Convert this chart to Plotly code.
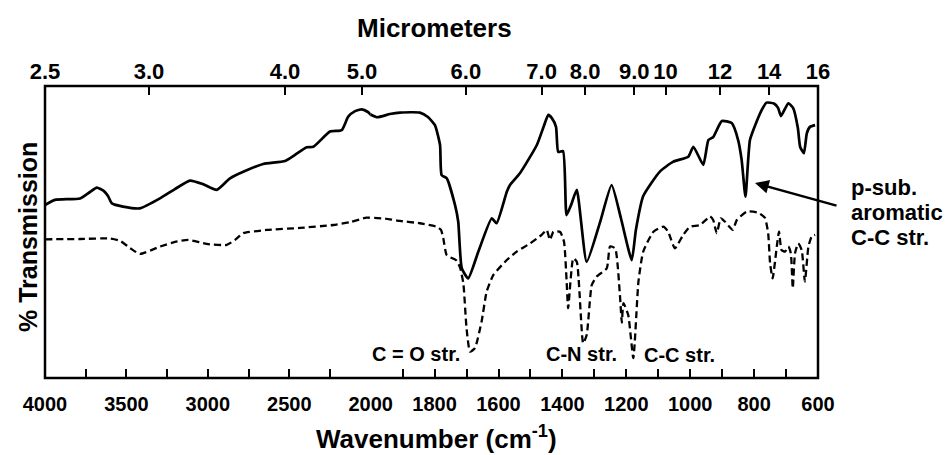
import plotly.graph_objects as go

# ---------------- data (wavenumber in cm^-1, % transmission) ----------------
wn_solid = [4000, 3939, 3785, 3724, 3682, 3638, 3613, 3589, 3521, 3417, 3294, 3202, 3110, 3030,
            2946, 2864, 2772, 2660, 2526, 2465, 2393, 2352, 2250, 2178, 2138, 2096, 2055, 2017,
            1981, 1940, 1908, 1846, 1821, 1799, 1783, 1778, 1762, 1736, 1726, 1715, 1695, 1663,
            1621, 1606, 1574, 1564, 1533, 1480, 1458, 1444, 1433, 1420, 1413, 1398, 1387, 1373,
            1355, 1324, 1282, 1246, 1217, 1183, 1170, 1147, 1095, 1053, 1006, 990, 959, 943,
            928, 901, 870, 850, 839, 827, 813, 792, 776, 761, 738, 725, 716, 693, 678, 663, 656,
            644, 635, 625, 609]
t_solid = [59.2, 61.0, 61.5, 63.7, 65.2, 64.0, 62.3, 59.8, 58.7, 58.1, 61.5, 64.7, 67.6, 66.4,
           64.4, 68.4, 70.9, 73.3, 74.3, 76.4, 79.0, 79.2, 84.4, 84.9, 89.5, 91.4, 92.0, 91.1,
           89.3, 90.4, 90.9, 90.9, 89.4, 86.6, 79.8, 69.5, 68.4, 59.2, 53.5, 37.6, 34.1, 43.3,
           54.7, 53.0, 63.8, 66.1, 70.1, 79.8, 86.3, 90.1, 89.0, 86.0, 77.4, 77.7, 55.8, 59.2,
           64.4, 39.8, 53.4, 66.1, 54.8, 40.4, 50.7, 62.3, 70.7, 74.1, 75.8, 79.2, 73.0, 81.5,
           82.5, 88.0, 87.3, 81.5, 74.7, 62.1, 81.5, 87.8, 91.8, 94.3, 94.0, 92.5, 89.7, 94.1,
           92.5, 85.6, 79.2, 77.0, 83.8, 86.0, 86.6]

wn_dash = [4000, 3785, 3601, 3539, 3478, 3417, 3294, 3202, 3120, 3007, 2884, 2833, 2782, 2639,
           2434, 2230, 2127, 2025, 1955, 1908, 1846, 1793, 1780, 1773, 1762, 1731, 1720, 1710,
           1700, 1689, 1674, 1653, 1637, 1616, 1574, 1543, 1501, 1465, 1449, 1439, 1428, 1407,
           1395, 1387, 1382, 1366, 1355, 1335, 1324, 1308, 1293, 1261, 1251, 1235, 1220, 1214,
           1209, 1194, 1178, 1162, 1147, 1115, 1084, 1069, 1048, 1022, 1001, 969, 938, 928, 917,
           904, 891, 867, 854, 823, 787, 766, 756, 750, 742, 729, 722, 714, 703, 693, 685, 679,
           672, 662, 651, 641, 630, 620, 609]
t_dash = [47.5, 47.6, 47.8, 47.0, 44.5, 42.5, 45.0, 46.6, 47.3, 45.9, 45.6, 47.3, 49.6, 50.7,
          51.4, 52.4, 53.4, 54.9, 54.6, 53.8, 53.0, 51.8, 50.7, 48.0, 42.1, 40.2, 37.7, 32.4,
          17.0, 9.0, 10.2, 19.3, 29.6, 35.3, 40.4, 43.3, 46.1, 49.0, 50.7, 47.3, 50.1, 50.0,
          46.7, 33.6, 23.9, 41.0, 39.8, 11.9, 14.7, 31.9, 34.7, 37.6, 45.0, 44.4, 28.4, 19.0,
          25.6, 21.6, 6.8, 33.0, 43.3, 50.1, 51.8, 50.1, 44.4, 49.0, 51.8, 52.4, 55.3, 54.1,
          49.6, 54.7, 53.5, 50.7, 54.1, 57.0, 56.6, 54.8, 49.6, 39.3, 34.1, 45.0, 50.1, 43.8,
          43.3, 45.0, 42.7, 30.7, 42.7, 46.1, 43.8, 33.0, 45.0, 48.4, 49.0]

# bottom axis ticks (cm^-1)
ticks_hi = [4000, 3750, 3500, 3250, 3000, 2750, 2500, 2250]
labels_hi = ["4000", "", "3500", "", "3000", "", "2500", ""]
ticks_lo = [2000, 1900, 1800, 1700, 1600, 1500, 1400, 1300, 1200, 1100, 1000, 900, 800, 700, 600]
labels_lo = ["2000", "", "1800", "", "1600", "", "1400", "", "1200", "", "1000", "", "800", "", "600"]

# top axis (micrometers) labels and where the printed scale places them (cm^-1 of bottom scale)
um_labels_hi = ["2.5", "3.0", "4.0", "5.0"]
um_pos_hi = [4000, 3361, 2526, 2053]
um_labels_lo = ["6.0", "7.0", "8.0", "9.0", "10", "12", "14", "16"]
um_pos_lo = [1702, 1465, 1329, 1175, 1077, 907, 753, 600]

# ---------------- figure ----------------
W, H = 947, 455
ML, MR, MT, MB = 45, 129, 86, 77
SPLIT = (370.7 - ML) / (W - ML - MR)

FONT = "Arial, Liberation Sans, sans-serif"

fig = go.Figure()
for xa, ya in [("x", "y"), ("x2", "y2")]:
    fig.add_trace(go.Scatter(x=wn_dash, y=t_dash, xaxis=xa, yaxis=ya, mode="lines",
                             line=dict(color="black", width=2.3, dash="7px,4px",
                                       shape="spline", smoothing=0.5),
                             showlegend=False, hoverinfo="skip"))
    fig.add_trace(go.Scatter(x=wn_solid, y=t_solid, xaxis=xa, yaxis=ya, mode="lines",
                             line=dict(color="black", width=2.7, shape="spline", smoothing=0.5),
                             showlegend=False, hoverinfo="skip"))
# empty traces to register the top axes
fig.add_trace(go.Scatter(x=[], y=[], xaxis="x3", yaxis="y", showlegend=False))
fig.add_trace(go.Scatter(x=[], y=[], xaxis="x4", yaxis="y2", showlegend=False))

bottom_common = dict(ticks="inside", ticklen=9, tickwidth=2, tickcolor="black",
                     showgrid=False, zeroline=False, showline=False, fixedrange=True,
                     tickfont=dict(family=FONT, size=20, color="black", weight="bold"),
                     ticklabelstandoff=12)
top_common = dict(ticks="inside", ticklen=9, tickwidth=2, tickcolor="black",
                  showgrid=False, zeroline=False, showline=False, fixedrange=True,
                  tickfont=dict(family=FONT, size=22, color="black", weight="bold"),
                  ticklabelstandoff=2)

fig.update_layout(
    width=W, height=H,
    margin=dict(l=ML, r=MR, t=MT, b=MB, pad=0),
    paper_bgcolor="white", plot_bgcolor="white",
    showlegend=False,
    xaxis=dict(domain=[0, SPLIT], range=[4000, 2000], anchor="y",
               tickmode="array", tickvals=ticks_hi, ticktext=labels_hi, **bottom_common),
    xaxis2=dict(domain=[SPLIT, 1], range=[2000, 600], anchor="y2",
                tickmode="array", tickvals=ticks_lo, ticktext=labels_lo, **bottom_common),
    xaxis3=dict(domain=[0, SPLIT], range=[4000, 2000], anchor="y", overlaying="x", side="top",
                tickmode="array", tickvals=um_pos_hi, ticktext=um_labels_hi, **top_common),
    xaxis4=dict(domain=[SPLIT, 1], range=[2000, 600], anchor="y2", overlaying="x2", side="top",
                tickmode="array", tickvals=um_pos_lo, ticktext=um_labels_lo, **top_common),
    yaxis=dict(domain=[0, 1], range=[0, 100], anchor="x", visible=False, fixedrange=True),
    yaxis2=dict(domain=[0, 1], range=[0, 100], anchor="x2", visible=False, fixedrange=True),
)

# frame
fig.add_shape(type="rect", xref="paper", yref="paper", x0=0, x1=1, y0=0, y1=1,
              line=dict(color="black", width=2.5), fillcolor="rgba(0,0,0,0)", layer="above")

PW, PH = W - ML - MR, H - MT - MB
def px(xp):
    return (xp - ML) / PW
def py(yp):
    return (H - MB - yp) / PH

def txt(text, x, y, size, **kw):
    fig.add_annotation(text=text, xref="paper", yref="paper", x=px(x), y=py(y),
                       showarrow=False, font=dict(family=FONT, size=size,
                                                  color="black", weight="bold"), **kw)

txt("Micrometers", 434, 28, 26, xanchor="center", yanchor="middle")
txt("Wavenumber (cm<sup>-1</sup>)", 436, 437, 26, xanchor="center", yanchor="middle")
txt("% Transmission", 28, 237, 25, xanchor="center", yanchor="middle", textangle=-90)

txt("C = O str.", 416, 354, 20, xanchor="center", yanchor="middle")
txt("C-N str.", 581, 354, 20, xanchor="center", yanchor="middle")
txt("C-C str.", 679, 355, 20, xanchor="center", yanchor="middle")

txt("p-sub.", 849, 187, 22, xanchor="left", yanchor="middle")
txt("aromatic", 849, 212, 22, xanchor="left", yanchor="middle")
txt("C-C str.", 849, 237, 22, xanchor="left", yanchor="middle")

# arrow pointing to the p-substituted aromatic band
fig.add_annotation(text="", xref="paper", yref="paper", x=px(755), y=py(183),
                   ax=83, ay=23, axref="pixel", ayref="pixel", showarrow=True,
                   arrowhead=2, arrowsize=1.1, arrowwidth=2.5, arrowcolor="black", standoff=0)

fig.write_html("out.html")
